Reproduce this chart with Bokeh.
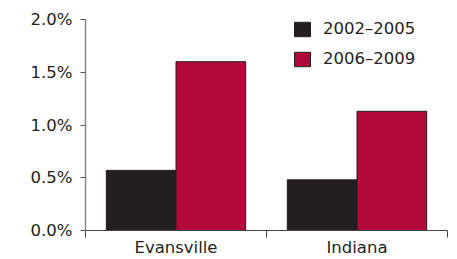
from bokeh.plotting import figure
from bokeh.models import FixedTicker, ColumnDataSource, Legend, LegendItem, Range1d
from bokeh.embed import file_html
from bokeh.resources import INLINE

categories = ["Evansville", "Indiana"]
series_names = ["2002\u20132005", "2006\u20132009"]
values_2002_2005 = [0.57, 0.48]
values_2006_2009 = [1.60, 1.13]
y_ticks = [0.0, 0.5, 1.0, 1.5, 2.0]
y_tick_labels = ["0.0%", "0.5%", "1.0%", "1.5%", "2.0%"]

colors = ["#231f20", "#b10a3a"]
text_color = "#231f20"
font = "DejaVu Sans"
fsize = "16.5px"

W, H = 449, 259
p = figure(width=W, height=H, output_backend="svg", toolbar_location=None,
           x_range=Range1d(0, len(categories)), y_range=Range1d(0, 2.0),
           min_border_left=85, min_border_right=2, min_border_top=19, min_border_bottom=28)
p.outline_line_color = None
p.grid.grid_line_color = None
p.background_fill_color = "white"
p.border_fill_color = "white"

bw = 0.385
centers = [i + 0.5 for i in range(len(categories))]
src1 = ColumnDataSource(dict(x=[c - bw / 2 for c in centers], top=values_2002_2005))
src2 = ColumnDataSource(dict(x=[c + bw / 2 for c in centers], top=values_2006_2009))
r1 = p.vbar(x="x", top="top", width=bw, bottom=0, source=src1, fill_color=colors[0],
            line_color="#231f20", line_width=1)
r2 = p.vbar(x="x", top="top", width=bw, bottom=0, source=src2, fill_color=colors[1],
            line_color="#231f20", line_width=1)

xa = p.xaxis[0]
xa.ticker = FixedTicker(ticks=centers, minor_ticks=list(range(len(categories) + 1)))
xa.major_label_overrides = {c: lab for c, lab in zip(centers, categories)}
xa.major_tick_line_color = None
xa.major_tick_out = 0
xa.major_tick_in = 0
xa.minor_tick_line_color = "#444444"
xa.minor_tick_out = 7
xa.minor_tick_in = 0
xa.axis_line_color = "#444444"
xa.major_label_standoff = 0
xa.major_label_text_font = font
xa.major_label_text_font_size = fsize
xa.major_label_text_color = text_color

ya = p.yaxis[0]
ya.ticker = FixedTicker(ticks=y_ticks)
ya.major_label_overrides = {t: lab for t, lab in zip(y_ticks, y_tick_labels)}
ya.minor_tick_line_color = None
ya.major_tick_out = 5
ya.major_tick_in = 0
ya.major_tick_line_color = "#555555"
ya.axis_line_color = "#8a8a8a"
ya.axis_line_width = 1.5
ya.major_label_standoff = 8
ya.major_label_text_font = font
ya.major_label_text_font_size = fsize
ya.major_label_text_color = text_color

legend = Legend(items=[LegendItem(label=series_names[0], renderers=[r1]),
                       LegendItem(label=series_names[1], renderers=[r2])],
                location=(207, 162))
legend.border_line_color = None
legend.background_fill_alpha = 0
legend.padding = 0
legend.margin = 0
legend.spacing = 11
legend.glyph_width = 20
legend.glyph_height = 18
legend.label_height = 19
legend.label_standoff = 11
legend.label_text_font = font
legend.label_text_font_size = fsize
legend.label_text_color = text_color
p.add_layout(legend, "center")

open("out.html", "w").write(file_html(p, INLINE))
